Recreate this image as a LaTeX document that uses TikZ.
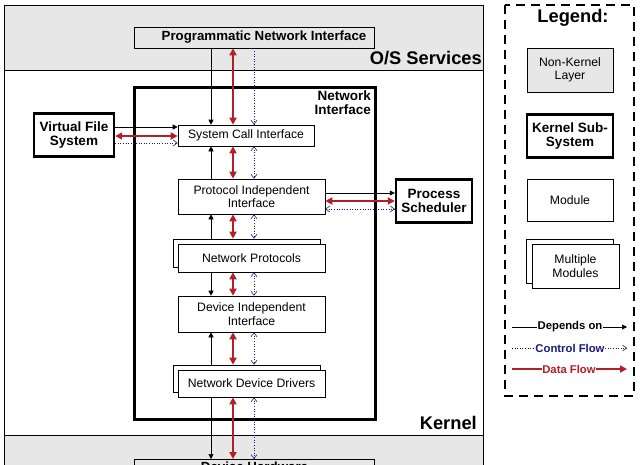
\documentclass[tikz,border=0pt]{standalone}
\usepackage{fontspec}
\setmainfont{Liberation Sans}
\usetikzlibrary{arrows.meta}
\definecolor{layergray}{RGB}{231, 231, 231}
\definecolor{flowred}{RGB}{178, 32, 38}
\definecolor{ctrlblue}{RGB}{25, 25, 120}

\tikzset{
  module/.style={draw, fill=white, line width=0.6pt, inner sep=1pt,
    align=center, font=\fontsize{12.2}{13.5}\selectfont},
  layerbox/.style={module, fill=layergray},
  subsys/.style={draw, fill=white, line width=2.4pt, inner sep=1pt,
    align=center, font=\bfseries\fontsize{13.5}{14}\selectfont},
  bigtitle/.style={font=\bfseries\fontsize{18.3}{20}\selectfont, inner sep=0pt},
  keytext/.style={font=\bfseries\fontsize{11.3}{12}\selectfont, inner sep=0.5pt},
  depends/.style={-{Triangle[length=5pt,width=5pt]}, line width=0.6pt},
  dataflow/.style={{Triangle[length=7pt,width=7pt]}-{Triangle[length=7pt,width=7pt]},
    line width=2.4pt, flowred},
  ctrlflow/.style={-{Straight Barb[length=4pt,width=6pt]}, dotted,
    line width=0.6pt, ctrlblue},
  ctrlboth/.style={ctrlflow,
    {Straight Barb[length=4pt,width=6pt]}-{Straight Barb[length=4pt,width=6pt]}},
}

\begin{document}
\begin{tikzpicture}[x=1pt, y=-1pt]
  \useasboundingbox (0,0) rectangle (640,464);
  \clip (0,0) rectangle (640,464);

  % ── Layers ─────────────────────────────────────────────────────────
  \fill[layergray] (4,5) rectangle (483,70);
  \fill[layergray] (4,435) rectangle (483,470);
  \draw[line width=0.6pt] (4,470) -- (4,5) -- (483,5) -- (483,470);
  \draw[line width=0.6pt] (4,70) -- (483,70);
  \draw[line width=0.6pt] (4,435) -- (483,435);

  \node[bigtitle, anchor=east] (ostitle) at (482,58) {O/S Services};
  \node[bigtitle, anchor=east] (kerntitle) at (477,423) {Kernel};

  % ── Network Interface sub-system ───────────────────────────────────
  \node[draw, line width=3pt, minimum width=241pt, minimum height=332pt]
    (ni) at (254.5,253) {};
  \node[anchor=north east, align=right, inner sep=0pt,
    font=\bfseries\fontsize{13.5}{13.5}\selectfont] (nilabel) at (371,91)
    {Network\\Interface};

  % ── Boxes ──────────────────────────────────────────────────────────
  \node[layerbox, font=\bfseries\fontsize{13.3}{14}\selectfont,
    minimum width=240pt, minimum height=21pt] (pni) at (254,37.5)
    {\hspace*{20pt}Programmatic Network Interface};
  \node[subsys, minimum width=80pt, minimum height=43pt] (vfs) at (74,135)
    {Virtual File\\System};
  \node[subsys, minimum width=76pt, minimum height=43pt] (ps) at (434,201)
    {Process\\Scheduler};

  \node[module, minimum width=136pt, minimum height=21pt] (sci)
    at (246,135.5) {System Call Interface};
  \node[module, minimum width=147pt, minimum height=35pt] (pii)
    at (251.5,196.5) {Protocol Independent\\Interface};
  \node[module, minimum width=147pt, minimum height=28pt] (npb)
    at (246.5,253) {};
  \node[module, minimum width=147pt, minimum height=28pt] (np)
    at (251.5,258) {Network Protocols};
  \node[module, minimum width=147pt, minimum height=36pt] (dii)
    at (251.5,314) {Device Independent\\Interface};
  \node[module, minimum width=147pt, minimum height=27pt] (nddb)
    at (246.5,378.5) {};
  \node[module, minimum width=147pt, minimum height=27pt] (ndd)
    at (251.5,383.5) {Network Device Drivers};

  \node[layerbox, font=\bfseries\fontsize{13.3}{14}\selectfont,
    minimum width=240pt, anchor=north, inner sep=2.5pt] (hw) at (254.5,459)
    {Device Hardware};

  % ── Vertical channels ──────────────────────────────────────────────
  \coordinate (chd) at (211,0);   % depends on
  \coordinate (chf) at (233,0);   % data flow
  \coordinate (chc) at (254,0);   % control flow

  \draw[depends]  (pni.south -| chd) -- (sci.north -| chd);
  \draw[dataflow] (pni.south -| chf) -- (sci.north -| chf);
  \draw[ctrlflow] (pni.south -| chc) -- (sci.north -| chc);

  \foreach \a/\b in {sci/pii, pii/npb, np/dii, dii/nddb, ndd/hw} {
    \draw[dataflow] (\a.south -| chf) -- (\b.north -| chf);
    \draw[ctrlboth] (\a.south -| chc) -- (\b.north -| chc);
  }

  \draw[depends] (pii.north -| chd) -- (sci.south -| chd);
  \draw[depends] (npb.north -| chd) -- (pii.south -| chd);
  \draw[depends] (np.south -| chd) -- (dii.north -| chd);
  \draw[depends] (nddb.north -| chd) -- (dii.south -| chd);
  \draw[depends] (ndd.south -| chd) -- (hw.north -| chd);

  % ── Horizontal links ───────────────────────────────────────────────
  \draw[depends]  (vfs.east |- 0,127) -- (sci.west |- 0,127);
  \draw[dataflow] (vfs.east |- 0,136) -- (sci.west |- 0,136);
  \draw[ctrlflow] (vfs.east |- 0,143) -- (sci.west |- 0,143);

  \draw[depends]  (pii.east |- 0,193) -- (ps.west |- 0,193);
  \draw[dataflow] (pii.east |- 0,201) -- (ps.west |- 0,201);
  \draw[ctrlboth] (pii.east |- 0,209) -- (ps.west |- 0,209);

  % ── Legend ─────────────────────────────────────────────────────────
  \draw[line width=2.4pt, dash pattern=on 9pt off 6pt]
    (505,5) rectangle (634,396);
  \node[font=\bfseries\fontsize{18.3}{20}\selectfont] (legend) at (573,18)
    {Legend:};

  \node[layerbox, minimum width=86pt, minimum height=44pt] (lnk)
    at (570,70) {Non-Kernel\\Layer};
  \node[subsys, minimum width=86pt, minimum height=43pt] (lks)
    at (570,136) {Kernel Sub-\\System};
  \node[module, minimum width=86pt, minimum height=42pt] (lmod)
    at (570,200) {Module};
  \node[module, minimum width=87pt, minimum height=44pt] (lmmb)
    at (569.5,261) {};
  \node[module, minimum width=87pt, minimum height=44pt] (lmm)
    at (575.5,266) {Multiple\\Modules};

  \coordinate (keyl) at (512,0);
  \coordinate (keyr) at (627,0);

  \node[keytext] (kdep) at (570,327) {Depends on};
  \draw[line width=0.6pt] (keyl |- kdep) -- (kdep.west);
  \draw[depends] (kdep.east) -- (keyr |- kdep);

  \node[keytext, ctrlblue] (kctl) at (570,348) {Control Flow};
  \draw[dotted, line width=0.6pt] (keyl |- kctl) -- (kctl.west);
  \draw[ctrlflow] (kctl.east) -- (keyr |- kctl);

  \node[keytext, flowred] (kdat) at (569,369) {Data Flow};
  \draw[line width=2.4pt, flowred] (keyl |- kdat) -- (kdat.west);
  \draw[line width=2.4pt, flowred, -{Triangle[length=7pt,width=7pt]}]
    (kdat.east) -- (keyr |- kdat);

\end{tikzpicture}
\end{document}
